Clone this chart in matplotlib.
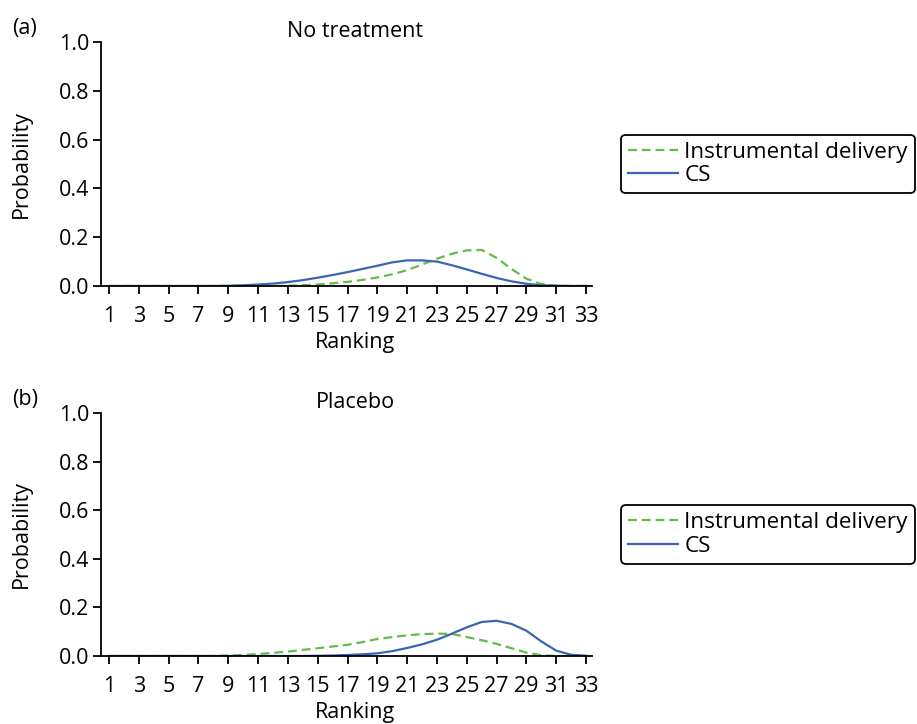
import matplotlib
matplotlib.use("Agg")
import matplotlib.pyplot as plt

plt.rcParams['font.family'] = ['Open Sans', 'DejaVu Sans']

ranks = list(range(1, 34))
xtick_labels = list(range(1, 34, 2))
yticks = [0.0, 0.2, 0.4, 0.6, 0.8, 1.0]

# (a) No treatment
a_instrumental = [0, 0, 0, 0, 0, 0, 0, 0, 0, 0, 0, 0, 0.001, 0.003, 0.006, 0.011,
                  0.017, 0.025, 0.035, 0.048, 0.065, 0.088, 0.112, 0.132, 0.146,
                  0.148, 0.115, 0.070, 0.030, 0.008, 0.001, 0, 0]
a_cs = [0, 0, 0, 0, 0, 0, 0, 0, 0.001, 0.003, 0.006, 0.010, 0.016, 0.024, 0.034,
        0.045, 0.057, 0.070, 0.083, 0.097, 0.105, 0.105, 0.100, 0.085, 0.068,
        0.050, 0.033, 0.019, 0.009, 0.003, 0.001, 0, 0]

# (b) Placebo
b_instrumental = [0, 0, 0, 0, 0, 0, 0, 0, 0.002, 0.004, 0.008, 0.013, 0.018, 0.025,
                  0.032, 0.039, 0.046, 0.057, 0.070, 0.078, 0.085, 0.090, 0.092,
                  0.091, 0.078, 0.065, 0.050, 0.032, 0.014, 0.003, 0, 0, 0]
b_cs = [0, 0, 0, 0, 0, 0, 0, 0, 0, 0, 0, 0, 0, 0, 0.001, 0.002, 0.004, 0.007, 0.011,
        0.020, 0.033, 0.048, 0.067, 0.092, 0.118, 0.140, 0.145, 0.132, 0.104,
        0.060, 0.022, 0.005, 0.001]

panels = [
    ("(a)", "No treatment", a_instrumental, a_cs),
    ("(b)", "Placebo", b_instrumental, b_cs),
]

GREEN = "#66ba4a"
BLUE = "#3a64b4"
FS = 15.5
LEG_FS = 16.2

W, H = 917, 724
fig = plt.figure(figsize=(W / 100, H / 100), dpi=100)

# axes boxes in pixels: left, top, right, bottom
boxes = [(101, 42, 592, 286), (101, 413, 592, 656)]

for (tag, title, inst, cs), (l, t, r, b) in zip(panels, boxes):
    ax = fig.add_axes([l / W, 1 - b / H, (r - l) / W, (b - t) / H])
    ax.plot(ranks, inst, color=GREEN, lw=1.6, ls=(0, (4, 2.2)),
            label="Instrumental delivery")
    ax.plot(ranks, cs, color=BLUE, lw=1.6, label="CS")
    ax.set_xlim(0.46, 33.4)
    ax.set_ylim(0, 1.0)
    ax.set_xticks(xtick_labels)
    ax.set_xticklabels([str(v) for v in xtick_labels], fontsize=FS)
    ax.set_yticks(yticks)
    ax.set_yticklabels([f"{v:.1f}" for v in yticks], fontsize=FS)
    ax.tick_params(direction="out", length=5.5, width=1.3, colors="black")
    ax.tick_params(axis="x", pad=9)
    ax.tick_params(axis="y", pad=3)
    for side in ("top", "right"):
        ax.spines[side].set_visible(False)
    for side in ("left", "bottom"):
        ax.spines[side].set_linewidth(1.3)
    ax.set_xlabel("Ranking", fontsize=FS)
    ax.xaxis.set_label_coords(0.518, -0.19)
    ax.set_ylabel("Probability", fontsize=FS)
    ax.yaxis.set_label_coords(-0.14, 0.5)
    ax.set_title(title, fontsize=FS, x=0.518, pad=2)
    ax.text(-0.181, 1.033, tag, transform=ax.transAxes, fontsize=FS,
            ha="left", va="baseline")
    leg = ax.legend(loc="center left", bbox_to_anchor=(1.06, 0.5), fontsize=LEG_FS,
                    frameon=True, fancybox=True, edgecolor="black",
                    handlelength=2.2, handletextpad=0.3, labelspacing=0.12,
                    borderpad=0.3, borderaxespad=0)
    leg.get_frame().set_linewidth(1.3)
    leg.get_frame().set_alpha(1)

fig.savefig("out.png", dpi=100)
